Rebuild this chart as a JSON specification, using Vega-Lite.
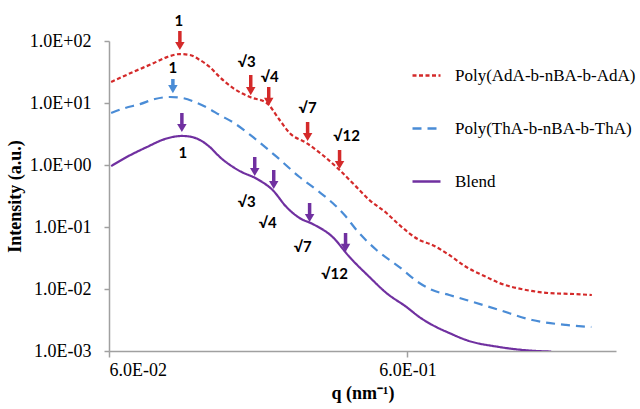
{
  "$schema": "https://vega.github.io/schema/vega-lite/v6.json",
  "width": 507,
  "height": 310,
  "autosize": {"type": "none"},
  "padding": {"left": 109, "top": 41, "right": 24, "bottom": 58},
  "background": "white",
  "config": {
    "view": {"stroke": null},
    "axis": {
      "grid": false,
      "domainColor": "#a0a0a0",
      "domainWidth": 1.5,
      "tickColor": "#a0a0a0",
      "tickWidth": 1.5,
      "labelFont": "Liberation Serif",
      "labelFontSize": 18,
      "labelColor": "black",
      "titleFont": "Liberation Serif",
      "titleFontSize": 18,
      "titleFontWeight": "bold",
      "titleColor": "black"
    }
  },
  "datasets": {
    "curves": [
      {"s": "Poly(AdA-b-nBA-b-AdA)", "q": 0.0610, "I": 21.8},
      {"s": "Poly(AdA-b-nBA-b-AdA)", "q": 0.0722, "I": 31.6},
      {"s": "Poly(AdA-b-nBA-b-AdA)", "q": 0.0849, "I": 44.2},
      {"s": "Poly(AdA-b-nBA-b-AdA)", "q": 0.0938, "I": 55},
      {"s": "Poly(AdA-b-nBA-b-AdA)", "q": 0.1037, "I": 61.6},
      {"s": "Poly(AdA-b-nBA-b-AdA)", "q": 0.1120, "I": 59.5},
      {"s": "Poly(AdA-b-nBA-b-AdA)", "q": 0.121, "I": 49.4},
      {"s": "Poly(AdA-b-nBA-b-AdA)", "q": 0.1306, "I": 38.1},
      {"s": "Poly(AdA-b-nBA-b-AdA)", "q": 0.141, "I": 26.2},
      {"s": "Poly(AdA-b-nBA-b-AdA)", "q": 0.156, "I": 17.5},
      {"s": "Poly(AdA-b-nBA-b-AdA)", "q": 0.178, "I": 12.5},
      {"s": "Poly(AdA-b-nBA-b-AdA)", "q": 0.2025, "I": 10.0},
      {"s": "Poly(AdA-b-nBA-b-AdA)", "q": 0.2239, "I": 5.32},
      {"s": "Poly(AdA-b-nBA-b-AdA)", "q": 0.2417, "I": 3.28},
      {"s": "Poly(AdA-b-nBA-b-AdA)", "q": 0.2757, "I": 2.26},
      {"s": "Poly(AdA-b-nBA-b-AdA)", "q": 0.3118, "I": 1.45},
      {"s": "Poly(AdA-b-nBA-b-AdA)", "q": 0.3554, "I": 0.83},
      {"s": "Poly(AdA-b-nBA-b-AdA)", "q": 0.399, "I": 0.475},
      {"s": "Poly(AdA-b-nBA-b-AdA)", "q": 0.4477, "I": 0.272},
      {"s": "Poly(AdA-b-nBA-b-AdA)", "q": 0.5105, "I": 0.168},
      {"s": "Poly(AdA-b-nBA-b-AdA)", "q": 0.564, "I": 0.1077},
      {"s": "Poly(AdA-b-nBA-b-AdA)", "q": 0.658, "I": 0.0617},
      {"s": "Poly(AdA-b-nBA-b-AdA)", "q": 0.727, "I": 0.0513},
      {"s": "Poly(AdA-b-nBA-b-AdA)", "q": 0.829, "I": 0.0353},
      {"s": "Poly(AdA-b-nBA-b-AdA)", "q": 0.945, "I": 0.0226},
      {"s": "Poly(AdA-b-nBA-b-AdA)", "q": 1.086, "I": 0.0162},
      {"s": "Poly(AdA-b-nBA-b-AdA)", "q": 1.219, "I": 0.0125},
      {"s": "Poly(AdA-b-nBA-b-AdA)", "q": 1.50, "I": 0.00964},
      {"s": "Poly(AdA-b-nBA-b-AdA)", "q": 1.79, "I": 0.0086},
      {"s": "Poly(AdA-b-nBA-b-AdA)", "q": 2.17, "I": 0.0083},
      {"s": "Poly(AdA-b-nBA-b-AdA)", "q": 2.49, "I": 0.0080},
      {"s": "Poly(ThA-b-nBA-b-ThA)", "q": 0.0610, "I": 6.9},
      {"s": "Poly(ThA-b-nBA-b-ThA)", "q": 0.0679, "I": 8.3},
      {"s": "Poly(ThA-b-nBA-b-ThA)", "q": 0.0762, "I": 9.6},
      {"s": "Poly(ThA-b-nBA-b-ThA)", "q": 0.0855, "I": 11.6},
      {"s": "Poly(ThA-b-nBA-b-ThA)", "q": 0.096, "I": 12.5},
      {"s": "Poly(ThA-b-nBA-b-ThA)", "q": 0.1061, "I": 12.0},
      {"s": "Poly(ThA-b-nBA-b-ThA)", "q": 0.1164, "I": 10.4},
      {"s": "Poly(ThA-b-nBA-b-ThA)", "q": 0.1286, "I": 8.3},
      {"s": "Poly(ThA-b-nBA-b-ThA)", "q": 0.141, "I": 6.4},
      {"s": "Poly(ThA-b-nBA-b-ThA)", "q": 0.156, "I": 4.9},
      {"s": "Poly(ThA-b-nBA-b-ThA)", "q": 0.182, "I": 2.83},
      {"s": "Poly(ThA-b-nBA-b-ThA)", "q": 0.219, "I": 1.35},
      {"s": "Poly(ThA-b-nBA-b-ThA)", "q": 0.261, "I": 0.64},
      {"s": "Poly(ThA-b-nBA-b-ThA)", "q": 0.298, "I": 0.395},
      {"s": "Poly(ThA-b-nBA-b-ThA)", "q": 0.337, "I": 0.244},
      {"s": "Poly(ThA-b-nBA-b-ThA)", "q": 0.3694, "I": 0.156},
      {"s": "Poly(ThA-b-nBA-b-ThA)", "q": 0.405, "I": 0.0895},
      {"s": "Poly(ThA-b-nBA-b-ThA)", "q": 0.4726, "I": 0.0426},
      {"s": "Poly(ThA-b-nBA-b-ThA)", "q": 0.564, "I": 0.0226},
      {"s": "Poly(ThA-b-nBA-b-ThA)", "q": 0.658, "I": 0.0125},
      {"s": "Poly(ThA-b-nBA-b-ThA)", "q": 0.727, "I": 0.0096},
      {"s": "Poly(ThA-b-nBA-b-ThA)", "q": 0.829, "I": 0.0080},
      {"s": "Poly(ThA-b-nBA-b-ThA)", "q": 0.945, "I": 0.00665},
      {"s": "Poly(ThA-b-nBA-b-ThA)", "q": 1.219, "I": 0.00458},
      {"s": "Poly(ThA-b-nBA-b-ThA)", "q": 1.572, "I": 0.00316},
      {"s": "Poly(ThA-b-nBA-b-ThA)", "q": 2.04, "I": 0.00263},
      {"s": "Poly(ThA-b-nBA-b-ThA)", "q": 2.48, "I": 0.00244},
      {"s": "Blend", "q": 0.0610, "I": 0.96},
      {"s": "Blend", "q": 0.0679, "I": 1.30},
      {"s": "Blend", "q": 0.0804, "I": 1.95},
      {"s": "Blend", "q": 0.0923, "I": 2.62},
      {"s": "Blend", "q": 0.1053, "I": 2.94},
      {"s": "Blend", "q": 0.1137, "I": 2.83},
      {"s": "Blend", "q": 0.121, "I": 2.53},
      {"s": "Blend", "q": 0.1306, "I": 1.95},
      {"s": "Blend", "q": 0.141, "I": 1.35},
      {"s": "Blend", "q": 0.1645, "I": 0.80},
      {"s": "Blend", "q": 0.1875, "I": 0.60},
      {"s": "Blend", "q": 0.212, "I": 0.395},
      {"s": "Blend", "q": 0.236, "I": 0.210},
      {"s": "Blend", "q": 0.261, "I": 0.1396},
      {"s": "Blend", "q": 0.2887, "I": 0.112},
      {"s": "Blend", "q": 0.3368, "I": 0.069},
      {"s": "Blend", "q": 0.384, "I": 0.0328},
      {"s": "Blend", "q": 0.4477, "I": 0.0156},
      {"s": "Blend", "q": 0.5105, "I": 0.0086},
      {"s": "Blend", "q": 0.5955, "I": 0.00513},
      {"s": "Blend", "q": 0.658, "I": 0.00353},
      {"s": "Blend", "q": 0.727, "I": 0.00263},
      {"s": "Blend", "q": 0.829, "I": 0.00195},
      {"s": "Blend", "q": 0.945, "I": 0.0015},
      {"s": "Blend", "q": 1.219, "I": 0.00116},
      {"s": "Blend", "q": 1.572, "I": 0.00101},
      {"s": "Blend", "q": 1.82, "I": 0.00098}
    ],
    "arrows": [
      {"s": "Poly(AdA-b-nBA-b-AdA)", "q": 0.10367, "top": 145.0, "head": 83.1},
      {"s": "Poly(AdA-b-nBA-b-AdA)", "q": 0.17911, "top": 28.3, "head": 15.6},
      {"s": "Poly(AdA-b-nBA-b-AdA)", "q": 0.20578, "top": 18.1, "head": 10.4},
      {"s": "Poly(AdA-b-nBA-b-AdA)", "q": 0.27777, "top": 4.94, "head": 2.83},
      {"s": "Poly(AdA-b-nBA-b-AdA)", "q": 0.35545, "top": 1.746, "head": 1.0},
      {"s": "Poly(ThA-b-nBA-b-ThA)", "q": 0.09823, "top": 24.4, "head": 16.8},
      {"s": "Blend", "q": 0.10528, "top": 6.90, "head": 3.95},
      {"s": "Blend", "q": 0.18471, "top": 1.346, "head": 0.771},
      {"s": "Blend", "q": 0.21386, "top": 0.830, "head": 0.476},
      {"s": "Blend", "q": 0.28208, "top": 0.2438, "head": 0.1397},
      {"s": "Blend", "q": 0.37225, "top": 0.0800, "head": 0.0459}
    ],
    "labels": [
      {"q": 0.1029, "I": 210, "t": "1"},
      {"q": 0.17368, "I": 45.85, "t": "√3"},
      {"q": 0.20737, "I": 26.27, "t": "√4"},
      {"q": 0.27777, "I": 8.31, "t": "√7"},
      {"q": 0.37514, "I": 2.936, "t": "√12"},
      {"q": 0.09823, "I": 36.7, "t": "1"},
      {"q": 0.10609, "I": 1.561, "t": "1"},
      {"q": 0.17368, "I": 0.2531, "t": "√3"},
      {"q": 0.20420, "I": 0.1160, "t": "√4"},
      {"q": 0.26734, "I": 0.04758, "t": "√7"},
      {"q": 0.34201, "I": 0.01745, "t": "√12"}
    ]
  },
  "layer": [
    {
      "data": {"name": "curves"},
      "mark": {"type": "line", "clip": true, "strokeWidth": 2.2, "interpolate": "monotone"},
      "encoding": {
        "x": {
          "field": "q", "type": "quantitative",
          "scale": {"type": "log", "domain": [0.06, 3], "nice": false},
          "axis": {
            "values": [0.06, 0.6],
            "labelExpr": "'6.0E-0' + abs(round(log(datum.value/6)/LN10))",
            "title": "q (nm⁻¹)",
            "tickSize": 6,
            "labelPadding": 4,
            "titlePadding": 5
          }
        },
        "y": {
          "field": "I", "type": "quantitative",
          "scale": {"type": "log", "domain": [0.001, 100], "nice": false},
          "axis": {
            "values": [0.001, 0.01, 0.1, 1, 10, 100],
            "labelExpr": "'1.0E' + (datum.value >= 1 ? '+' : '-') + '0' + abs(round(log(datum.value)/LN10))",
            "title": "Intensity (a.u.)",
            "tickSize": 5,
            "labelPadding": 13,
            "titlePadding": 5
          }
        },
        "color": {
          "field": "s", "type": "nominal",
          "scale": {"domain": ["Poly(AdA-b-nBA-b-AdA)", "Poly(ThA-b-nBA-b-ThA)", "Blend"], "range": ["#d42a2a", "#4a8cd6", "#7030a0"]},
          "legend": {
            "orient": "none", "legendX": 302, "legendY": 19, "title": null, "padding": 0,
            "symbolType": "stroke", "symbolSize": 784, "symbolStrokeWidth": 2.5,
            "labelFont": "Liberation Serif", "labelFontSize": 17, "labelColor": "black",
            "labelOffset": 13, "rowPadding": 29, "labelLimit": 400
          }
        },
        "strokeDash": {
          "field": "s", "type": "nominal",
          "scale": {"domain": ["Poly(AdA-b-nBA-b-AdA)", "Poly(ThA-b-nBA-b-ThA)", "Blend"], "range": [[4, 2.5], [9, 6], [1, 0]]},
          "legend": {
            "orient": "none", "legendX": 302, "legendY": 19, "title": null, "padding": 0,
            "symbolType": "stroke", "symbolSize": 784, "symbolStrokeWidth": 2.5,
            "labelFont": "Liberation Serif", "labelFontSize": 17, "labelColor": "black",
            "labelOffset": 13, "rowPadding": 29, "labelLimit": 400
          }
        }
      }
    },
    {
      "data": {"name": "arrows"},
      "mark": {"type": "rule", "strokeWidth": 3.5},
      "encoding": {
        "x": {"field": "q", "type": "quantitative"},
        "y": {"field": "top", "type": "quantitative"},
        "y2": {"field": "head"},
        "color": {"field": "s", "type": "nominal", "legend": null}
      }
    },
    {
      "data": {"name": "arrows"},
      "mark": {"type": "point", "shape": "triangle-down", "filled": true, "size": 90, "opacity": 1},
      "encoding": {
        "x": {"field": "q", "type": "quantitative"},
        "y": {"field": "head", "type": "quantitative"},
        "color": {"field": "s", "type": "nominal", "legend": null}
      }
    },
    {
      "data": {"name": "labels"},
      "mark": {"type": "text", "font": "Lato", "fontSize": 15, "fontWeight": "bold", "color": "black"},
      "encoding": {
        "x": {"field": "q", "type": "quantitative"},
        "y": {"field": "I", "type": "quantitative"},
        "text": {"field": "t"}
      }
    }
  ]
}
